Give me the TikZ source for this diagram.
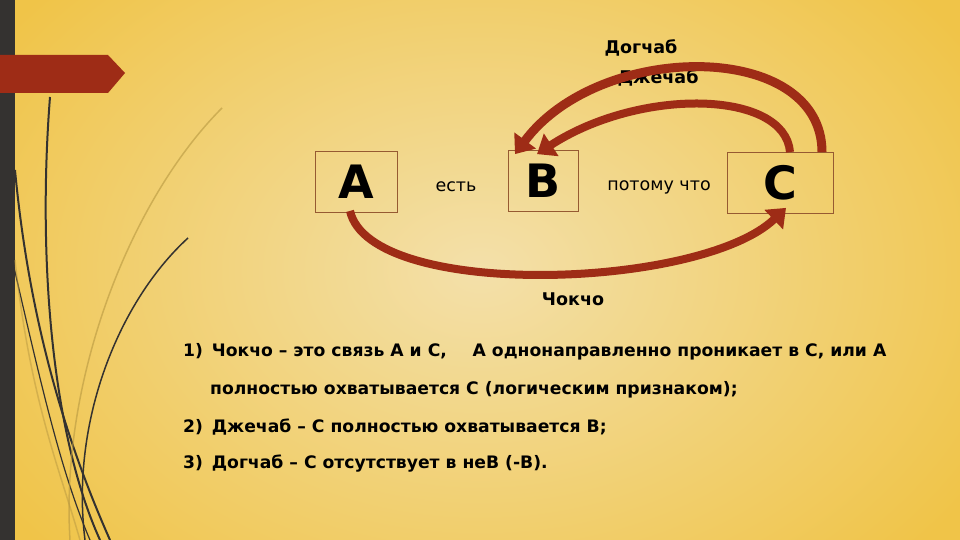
\documentclass[tikz,border=0pt]{standalone}
\usepackage{fontspec}
\setmainfont{DejaVu Sans}
\usetikzlibrary{arrows.meta}
\definecolor{bgout}{RGB}{240,196,72}
\definecolor{bgin}{RGB}{243,224,170}
\definecolor{rust}{RGB}{158,44,22}
\definecolor{strip}{RGB}{52,50,48}
\definecolor{boxline}{RGB}{150,90,50}
\tikzset{
  letterbox/.style={draw=boxline, line width=0.8pt, minimum width=#1, minimum height=61pt, inner sep=0pt, font=\fontsize{46}{46}\selectfont\bfseries},
  small/.style={font=\fontsize{17.5}{19}\selectfont},
  lab/.style={font=\fontsize{17.5}{19}\selectfont\bfseries},
  bigarrow/.style={draw=rust, line width=#1, -{Triangle[width=26pt,length=17pt]}},
  stalk/.style={draw=strip, line width=2pt},
  body/.style={font=\fontsize{17.2}{19}\selectfont\bfseries, anchor=west, inner sep=0pt}
}
\begin{document}
\begin{tikzpicture}[x=1pt,y=-1pt]
\useasboundingbox (0,0) rectangle (960,540);
\shade[inner color=bgin, outer color=bgout] (-100,-150) rectangle (1060,690);
\fill[strip] (0,0) rectangle (15,540);
\fill[rust] (0,55) -- (108,55) -- (125,73) -- (108,93) -- (0,93) -- cycle;
% stalks
\draw[stalk] (50,97) .. controls (38,250) and (50,430) .. (100,540);
\draw[stalk] (15,170) .. controls (30,330) and (70,450) .. (110,540);
\draw[stalk, line width=1.5pt] (188,238) .. controls (120,300) and (70,420) .. (85,540);
\draw[stalk, line width=1.2pt] (10,250) .. controls (40,380) and (60,470) .. (90,540);
\draw[strip!30!bgout, line width=1.5pt, opacity=0.6] (222,108) .. controls (130,200) and (60,380) .. (70,540);
\draw[strip!30!bgout, line width=1.5pt, opacity=0.5] (15,260) .. controls (30,400) and (60,470) .. (80,540);
% boxes
\node[letterbox=82pt] (A) at (356,182) {A};
\node[letterbox=70pt] (B) at (543,181) {B};
\node[letterbox=106pt] (C) at (780,183) {C};
\node[small] (est) at (456,187) {есть};
\node[small] (pot) at (659,187) {потому что};
\node[lab] (dog) at (641,48) {Догчаб};
\node[lab] (dzh) at (658,78) {Джечаб};
\node[lab] (chk) at (573,299) {Чокчо};
% arrows
\draw[bigarrow=9pt] ([xshift=42pt]C.north) .. controls (822,40) and (600,40) .. ([xshift=-28pt,yshift=-4pt]B.north);
\draw[bigarrow=8pt] ([xshift=10pt]C.north) .. controls (785,90) and (640,87) .. ([xshift=-6pt,yshift=-4pt]B.north);
\draw[bigarrow=8pt] ([xshift=-6pt,yshift=2pt]A.south) .. controls (370,300) and (700,290) .. ([xshift=6pt,yshift=6pt]C.south);
% text
\node[body] (t1) at (183,352) {1)\, Чокчо – это связь А и С, \hspace{0.8em} А однонаправленно проникает в С, или А};
\node[body] (t2) at (210,390) {полностью охватывается С (логическим признаком);};
\node[body] (t3) at (183,427) {2)\, Джечаб – С полностью охватывается В;};
\node[body] (t4) at (183,464) {3)\, Догчаб – С отсутствует в неВ (-В).};
\end{tikzpicture}
\end{document}
